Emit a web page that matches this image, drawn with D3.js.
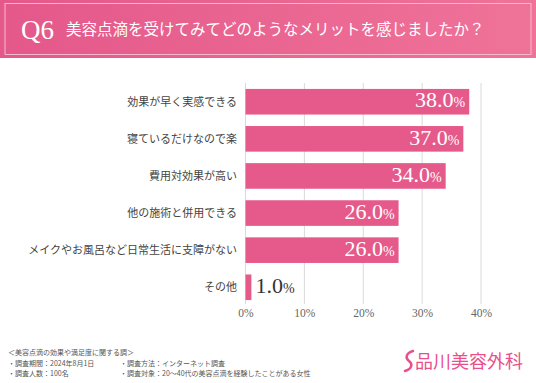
<!DOCTYPE html>
<html>
<head>
<meta charset="utf-8">
<script src="https://cdn.jsdelivr.net/npm/d3@7"></script>
<style>
  body { margin: 0; background: #fff; }
  svg { display: block; }
  .jp { font-family: "Noto Sans CJK JP", sans-serif; }
  .serif { font-family: "Liberation Serif", "DejaVu Serif", serif; }
</style>
</head>
<body>
<div id="chart"></div>
<script>
var categories = ["効果が早く実感できる", "寝ているだけなので楽", "費用対効果が高い", "他の施術と併用できる", "メイクやお風呂など日常生活に支障がない", "その他"];
var values = [38.0, 37.0, 34.0, 26.0, 26.0, 1.0];
var ticks = [0, 10, 20, 30, 40];
var notes = ["＜美容点滴の効果や満足度に関する調＞", "・調査期間：2024年8月1日", "・調査人数：100名"];
var notes2 = ["・調査方法：インターネット調査", "・調査対象：20～40代の美容点滴を経験したことがある女性"];

var width = 536, height = 383;
var pink = "#e55a8a";

var svg = d3.select("#chart").append("svg")
    .attr("width", width)
    .attr("height", height);

// header band
var grad = svg.append("defs").append("linearGradient")
    .attr("id", "hdr").attr("x1", "0%").attr("x2", "100%");
grad.append("stop").attr("offset", "0%").attr("stop-color", "#e4588a");
grad.append("stop").attr("offset", "100%").attr("stop-color", "#ef7399");

svg.append("rect").attr("x", 0).attr("y", 0).attr("width", width).attr("height", 58)
    .attr("fill", "url(#hdr)");
svg.append("rect").attr("x", 5).attr("y", 3.5).attr("width", 526).attr("height", 51)
    .attr("fill", "none").attr("stroke", "#f6b9cc").attr("stroke-width", 1);
svg.append("text").attr("class", "serif")
    .attr("x", 21).attr("y", 39)
    .attr("font-size", 27).attr("fill", "#fff")
    .text("Q6");
svg.append("text").attr("class", "jp")
    .attr("x", 66).attr("y", 35)
    .attr("font-size", 15.5).attr("fill", "#fff")
    .text("美容点滴を受けてみてどのようなメリットを感じましたか？");

// scales
var x = d3.scaleLinear().domain([0, 40]).range([245.5, 481]);
var y = d3.scaleBand().domain(categories).range([83, 306])
    .paddingInner(0.31).paddingOuter(0.16);

// gridlines
svg.append("g").selectAll("line").data(ticks).join("line")
    .attr("x1", function(d) { return x(d); })
    .attr("x2", function(d) { return x(d); })
    .attr("y1", 83).attr("y2", 304)
    .attr("stroke", "#d9d9d9").attr("stroke-width", 1);

// x axis labels
var xAxis = d3.axisBottom(x).tickValues(ticks)
    .tickFormat(function(d) { return d + "%"; })
    .tickSize(0).tickPadding(0);
var gx = svg.append("g").attr("transform", "translate(0,307)").call(xAxis);
gx.select(".domain").remove();
gx.selectAll("text").attr("class", "serif")
    .attr("font-size", 11.5).attr("fill", "#666").attr("dy", "0.9em");

// category labels
svg.append("g").selectAll("text").data(categories).join("text")
    .attr("class", "jp")
    .attr("x", 237)
    .attr("y", function(d) { return y(d) + y.bandwidth() / 2; })
    .attr("dy", "0.35em")
    .attr("text-anchor", "end")
    .attr("font-size", 11)
    .attr("fill", "#444")
    .text(function(d) { return d; });

// bars
svg.append("g").selectAll("rect").data(values).join("rect")
    .attr("x", x(0))
    .attr("y", function(d, i) { return y(categories[i]); })
    .attr("width", function(d) { return x(d) - x(0); })
    .attr("height", y.bandwidth())
    .attr("fill", pink);

// value labels
var lab = svg.append("g").selectAll("text").data(values).join("text")
    .attr("class", "serif")
    .attr("x", function(d) { return d < 5 ? x(d) + 4 : x(d) - 4; })
    .attr("y", function(d, i) { return y(categories[i]) + y.bandwidth() / 2; })
    .attr("dy", "0.36em")
    .attr("text-anchor", function(d) { return d < 5 ? "start" : "end"; })
    .attr("fill", function(d) { return d < 5 ? "#333" : "#fff"; });
lab.append("tspan").attr("font-size", 22).text(function(d) { return d.toFixed(1); });
lab.append("tspan").attr("font-size", 14).text("%");

// footer notes
svg.append("g").selectAll("text").data(notes).join("text")
    .attr("class", "jp")
    .attr("x", 8)
    .attr("y", function(d, i) { return 355 + i * 10.5; })
    .attr("font-size", 7).attr("fill", "#555")
    .text(function(d) { return d; });
svg.append("g").selectAll("text").data(notes2).join("text")
    .attr("class", "jp")
    .attr("x", 120)
    .attr("y", function(d, i) { return 365.5 + i * 10.5; })
    .attr("font-size", 7).attr("fill", "#555")
    .text(function(d) { return d; });

// logo
svg.append("path")
    .attr("d", "M413,351 C406,353 405,358 409,361 C413,364 412,369 405,371")
    .attr("fill", "none").attr("stroke", "#ea4f8c").attr("stroke-width", 2.5)
    .attr("stroke-linecap", "round");
svg.append("text").attr("class", "jp")
    .attr("x", 415).attr("y", 368)
    .attr("font-size", 18).attr("fill", "#ea4f8c")
    .text("品川美容外科");
</script>
</body>
</html>
